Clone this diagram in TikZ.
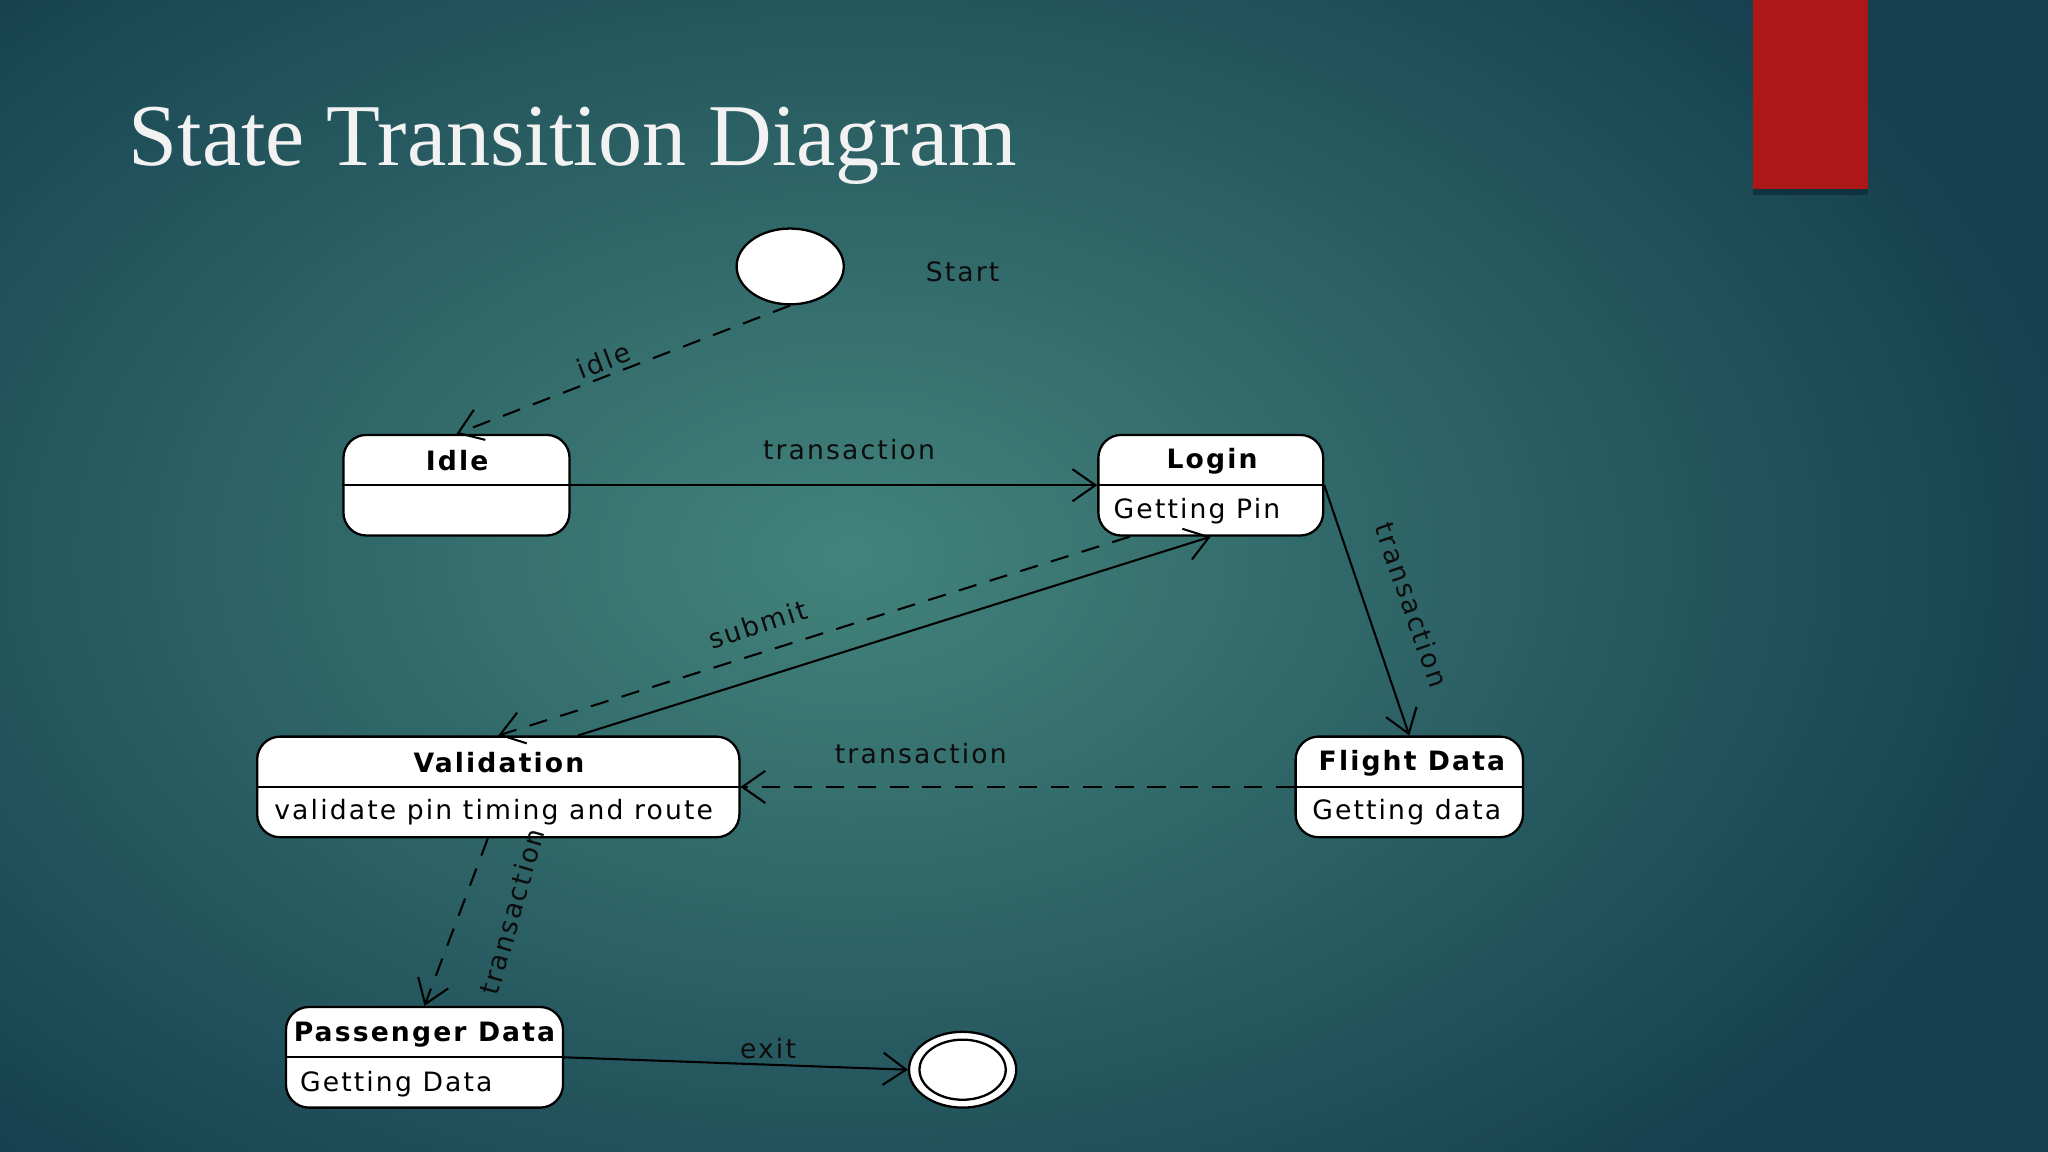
\documentclass[tikz,border=0pt]{standalone}
\usepackage{fontspec}
\setmainfont[LetterSpace=8]{DejaVu Sans}
\newfontfamily\titlefont{Liberation Serif}
\usetikzlibrary{arrows.meta,calc,shapes.geometric}
\definecolor{bgin}{HTML}{43837B}
\definecolor{bgout}{HTML}{15404F}
\definecolor{redbar}{HTML}{AE1717}
\tikzset{
 statebox/.style={draw=black,fill=white,rounded corners=5pt,line width=0.5pt,minimum height=0.77cm,inner sep=0pt},
 ttl/.style={font=\fontsize{5.8}{7}\selectfont\bfseries,text=black},
 body/.style={font=\fontsize{5.8}{7}\selectfont,text=black,inner sep=0pt},
 lbl/.style={font=\fontsize{5.8}{7}\selectfont,text=black!95},
 conn/.style={line width=0.45pt,-{Straight Barb[length=5pt,width=7pt]}},
 dconn/.style={conn,dash pattern=on 4pt off 3pt},
 blob/.style={ellipse,draw=black,fill=white,line width=0.5pt,inner sep=0pt}
}
\begin{document}
\begin{tikzpicture}[x=0.01cm,y=0.01cm]
\useasboundingbox (0,0) rectangle (1568,-882);
\shade[inner color=bgin,outer color=bgout] (-300,200) rectangle (1600,-1050);
\fill[bgout!80!black] (1342,-144) rectangle (1430,-149);
\fill[redbar] (1342,0) rectangle (1430,-145);
\node[anchor=west,text=white!90!gray,font=\titlefont\fontsize{19.2}{22}\selectfont] (title) at (86,-112) {State Transition Diagram};
% states
\node[blob,minimum width=0.82cm,minimum height=0.58cm] (start) at (605,-204) {};
\node[lbl] (startlbl) at (737,-208) {Start};
\node[statebox,minimum width=1.73cm] (idle) at (349.5,-371.5) {};
\node[statebox,minimum width=1.72cm] (login) at (927,-371.5) {};
\node[statebox,minimum width=3.69cm] (valid) at (381.5,-602.5) {};
\node[statebox,minimum width=1.74cm] (flight) at (1079,-602.5) {};
\node[statebox,minimum width=2.12cm] (pass) at (325,-809.5) {};
\foreach \n in {idle,login,valid,flight,pass}{\draw[line width=0.5pt] (\n.west) -- (\n.east);}
\node[ttl] (idlet) at (350,-353) {Idle};
\node[ttl] (logint) at (928,-353) {Login};
\node[body,anchor=west] (loginb) at (852,-391) {Getting Pin};
\node[ttl] (validt) at (382,-584) {Validation};
\node[body] (validb) at (378,-622) {validate pin timing and route};
\node[ttl] (flightt) at (1081,-584) {Flight Data};
\node[body,anchor=west] (flightb) at (1004,-622) {Getting data};
\node[ttl] (passt) at (325,-792) {Passenger Data};
\node[body,anchor=west] (passb) at (229,-830) {Getting Data};
\node[blob,minimum width=0.82cm,minimum height=0.58cm] (endo) at (737,-819) {};
\node[blob,minimum width=0.66cm,minimum height=0.46cm] (endi) at (737,-819) {};
% connectors
\draw[dconn] (start.south) -- (idle.north);
\node[lbl,rotate=21] (l1) at (462,-276) {idle};
\draw[conn] (idle.east) -- (login.west);
\node[lbl] (l2) at (650,-344) {transaction};
\draw[conn] (login.east) -- (flight.north);
\node[lbl,rotate=-71] (l3) at (1081,-463) {transaction};
\draw[conn] ($(valid.north)+(61,0)$) -- (login.south);
\draw[dconn] ($(login.south)+(-62,0)$) -- (valid.north);
\node[lbl,rotate=18] (l4) at (580,-478) {submit};
\draw[dconn] (flight.west) -- (valid.east);
\node[lbl] (l5) at (705,-577) {transaction};
\draw[dconn] ($(valid.south)+(-8,0)$) -- (pass.north);
\node[lbl,rotate=74] (l6) at (392,-698) {transaction};
\draw[conn] (pass.east) -- (endo.west);
\node[lbl] (l7) at (588,-803) {exit};
\end{tikzpicture}
\end{document}
